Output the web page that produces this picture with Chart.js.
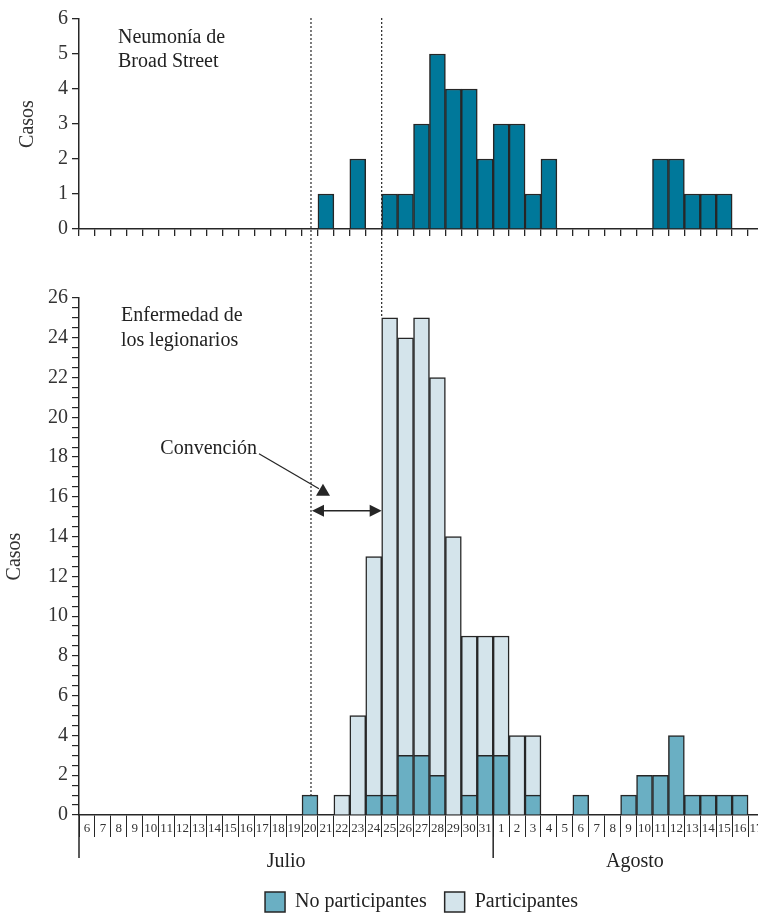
<!DOCTYPE html>
<html>
<head>
<meta charset="utf-8">
<script src="https://cdn.jsdelivr.net/npm/chart.js@4"></script>
<style>
  html, body { margin: 0; background: #fff; }
  #wrap { position: relative; width: 758px; height: 915px; overflow: hidden; }
  #wrap canvas { position: absolute; left: 0; top: 0; }
</style>
</head>
<body>
<div id="wrap">
  <canvas id="legion-chart" width="780" height="940"></canvas>
  <canvas id="broad-chart" width="780" height="940"></canvas>
</div>
<script>
// dias del eje x (julio 6-31, agosto 1-17)
const julyDays = ['6','7','8','9','10','11','12','13','14','15','16','17','18','19','20','21','22','23','24','25','26','27','28','29','30','31'];
const augustDays = ['1','2','3','4','5','6','7','8','9','10','11','12','13','14','15','16','17'];
const dayLabels = julyDays.concat(augustDays);

// Neumonia de Broad Street
const broadStreet = [0,0,0,0,0,0,0,0,0,0,0,0,0,0,0,1,0,2,0,1,1,3,5,4,4,2,
                     3,3,1,2,0,0,0,0,0,0,2,2,1,1,1,0,0];
// Enfermedad de los legionarios
const noParticipantes = [0,0,0,0,0,0,0,0,0,0,0,0,0,0,1,0,0,0,1,1,3,3,2,0,1,3,
                         3,0,1,0,0,1,0,0,1,2,2,4,1,1,1,1,0];
const participantes = [0,0,0,0,0,0,0,0,0,0,0,0,0,0,0,0,1,5,12,24,21,22,20,14,8,6,
                       6,4,3,0,0,0,0,0,0,0,0,0,0,0,0,0,0];

const conventionFrom = '20';   // julio
const conventionTo = '25';
const conventionLevel = 15.3;

const SERIF = '"Liberation Serif", "DejaVu Serif", serif';
Chart.defaults.font.family = SERIF;
Chart.defaults.color = '#222';

const INK = '#262626';
const nz = (arr) => arr.map(v => (v === 0 ? null : v));

const broadTitle = {
  id: 'broadTitle',
  afterDraw(chart) {
    const {ctx, chartArea} = chart;
    ctx.save();
    ctx.font = '20px ' + SERIF;
    ctx.fillStyle = '#222';
    ctx.textBaseline = 'middle';
    ctx.fillText('Neumonía de', chartArea.left + 39, chartArea.top + 19);
    ctx.fillText('Broad Street', chartArea.left + 39, chartArea.top + 43);
    ctx.restore();
  }
};

const broadChart = new Chart(document.getElementById('broad-chart'), {
  type: 'bar',
  data: {
    labels: dayLabels,
    datasets: [{
      label: 'Neumonía de Broad Street',
      data: nz(broadStreet),
      backgroundColor: '#00789a',
      borderColor: INK,
      borderWidth: 1.5,
      barPercentage: 1,
      categoryPercentage: 1,
    }],
  },
  options: {
    responsive: false,
    animation: false,
    layout: {padding: {top: 19, right: 16, bottom: 940 - 229 - 10, left: 0}},
    plugins: {legend: {display: false}, tooltip: {enabled: false}},
    scales: {
      x: {
        ticks: {display: false},
        grid: {drawOnChartArea: false, tickLength: 7, color: INK, lineWidth: 1.3},
        border: {color: INK, width: 1.5},
        afterFit: (s) => { s.height = 10; },
      },
      y: {
        min: 0,
        max: 6,
        ticks: {stepSize: 1, font: {size: 20}, padding: 4, color: '#333'},
        grid: {drawOnChartArea: false, tickLength: 7, color: INK, lineWidth: 1.3},
        border: {color: INK, width: 1.5},
        title: {display: true, text: 'Casos', font: {size: 20}, color: '#333', padding: {top: 16}},
        afterFit: (s) => { s.width = 79; },
      },
    },
  },
  plugins: [broadTitle],
});

const total = (i) => noParticipantes[i] + participantes[i];

const legionExtras = {
  id: 'legionExtras',
  beforeDatasetsDraw(chart) {
    // lineas punteadas de la convencion
    const {ctx, scales: {x, y}} = chart;
    const top = broadChart.scales.y.getPixelForValue(6) - 1;
    const i1 = dayLabels.indexOf(conventionFrom);
    const i2 = dayLabels.indexOf(conventionTo);
    const x1 = x.getPixelForValue(i1) + 1;
    const x2 = (x.getPixelForValue(i2 - 1) + x.getPixelForValue(i2)) / 2;
    ctx.save();
    ctx.strokeStyle = INK;
    ctx.lineWidth = 1.2;
    ctx.setLineDash([2, 2]);
    ctx.beginPath();
    ctx.moveTo(x1, top);
    ctx.lineTo(x1, y.getPixelForValue(total(i1)));
    ctx.moveTo(x2, top);
    ctx.lineTo(x2, y.getPixelForValue(total(i2)));
    ctx.stroke();
    ctx.restore();
  },
  afterDraw(chart) {
    const {ctx, chartArea, scales: {x, y}} = chart;
    const i1 = dayLabels.indexOf(conventionFrom);
    const i2 = dayLabels.indexOf(conventionTo);
    const x1 = x.getPixelForValue(i1) + 1;
    const x2 = (x.getPixelForValue(i2 - 1) + x.getPixelForValue(i2)) / 2;
    const ay = y.getPixelForValue(conventionLevel);

    ctx.save();
    ctx.strokeStyle = INK;
    ctx.fillStyle = INK;
    ctx.lineWidth = 1.5;

    // flecha doble
    ctx.beginPath();
    ctx.moveTo(x1 + 6, ay);
    ctx.lineTo(x2 - 6, ay);
    ctx.stroke();
    ctx.beginPath();
    ctx.moveTo(x1 + 1, ay);
    ctx.lineTo(x1 + 13, ay - 6);
    ctx.lineTo(x1 + 13, ay + 6);
    ctx.closePath();
    ctx.moveTo(x2, ay);
    ctx.lineTo(x2 - 12, ay - 6);
    ctx.lineTo(x2 - 12, ay + 6);
    ctx.closePath();
    ctx.fill();

    // Convencion + puntero
    ctx.lineWidth = 1.3;
    ctx.beginPath();
    ctx.moveTo(x1 - 52, ay - 57);
    ctx.lineTo(x1 + 8, ay - 22);
    ctx.stroke();
    ctx.beginPath();
    ctx.moveTo(x1 + 12, ay - 27);
    ctx.lineTo(x1 + 5, ay - 15);
    ctx.lineTo(x1 + 19, ay - 15);
    ctx.closePath();
    ctx.fill();

    ctx.font = '20px ' + SERIF;
    ctx.fillStyle = '#222';
    ctx.textBaseline = 'middle';
    ctx.textAlign = 'right';
    ctx.fillText('Convención', x1 - 54, ay - 62);

    ctx.textAlign = 'left';
    ctx.fillText('Enfermedad de', chartArea.left + 42, chartArea.top + 18);
    ctx.fillText('los legionarios', chartArea.left + 42, chartArea.top + 43);

    // eje y prolongado y division de meses
    const xb = chartArea.bottom;
    const xm = (x.getPixelForValue(julyDays.length - 1) + x.getPixelForValue(julyDays.length)) / 2;
    ctx.strokeStyle = INK;
    ctx.lineWidth = 1.5;
    ctx.beginPath();
    ctx.moveTo(chartArea.left, xb);
    ctx.lineTo(chartArea.left, xb + 43);
    ctx.moveTo(xm, xb);
    ctx.lineTo(xm, xb + 43);
    ctx.stroke();

    ctx.textAlign = 'center';
    ctx.fillText('Julio', (x.getPixelForValue(0) + x.getPixelForValue(julyDays.length - 1)) / 2, xb + 47);
    ctx.fillText('Agosto', x.getPixelForValue(34.4), xb + 47);
    ctx.restore();
  }
};

new Chart(document.getElementById('legion-chart'), {
  type: 'bar',
  data: {
    labels: dayLabels,
    datasets: [
      {
        label: 'No participantes',
        data: nz(noParticipantes),
        backgroundColor: '#6aafc3',
        borderColor: INK,
        borderWidth: 1.5,
        barPercentage: 1,
        categoryPercentage: 1,
      },
      {
        label: 'Participantes',
        data: nz(participantes),
        backgroundColor: '#d4e4eb',
        borderColor: INK,
        borderWidth: 1.5,
        barPercentage: 1,
        categoryPercentage: 1,
      },
    ],
  },
  options: {
    responsive: false,
    animation: false,
    layout: {padding: {top: 298, right: 16, bottom: 18, left: 0}},
    plugins: {
      tooltip: {enabled: false},
      legend: {
        position: 'bottom',
        fullSize: false,
        labels: {boxWidth: 20, boxHeight: 20, padding: 18, font: {size: 20}, color: '#222'},
      },
    },
    scales: {
      x: {
        stacked: true,
        ticks: {autoSkip: false, maxRotation: 0, minRotation: 0, font: {size: 13}, padding: -16, color: '#333'},
        grid: {drawOnChartArea: false, tickLength: 22, color: INK, lineWidth: 1},
        border: {color: INK, width: 1.5},
        afterFit: (s) => { s.height = 59; },
      },
      y: {
        stacked: true,
        min: 0,
        max: 26,
        ticks: {
          stepSize: 0.5,
          autoSkip: false,
          font: {size: 20},
          padding: 4,
          color: '#333',
          callback: (v) => (v % 2 === 0 ? String(v) : ''),
        },
        grid: {drawOnChartArea: false, tickLength: 7, color: INK, lineWidth: 1.2},
        border: {color: INK, width: 1.5},
        title: {display: true, text: 'Casos', font: {size: 20}, color: '#333', padding: {top: 3}},
        afterFit: (s) => { s.width = 79; },
      },
    },
  },
  plugins: [legionExtras],
});
</script>
</body>
</html>
